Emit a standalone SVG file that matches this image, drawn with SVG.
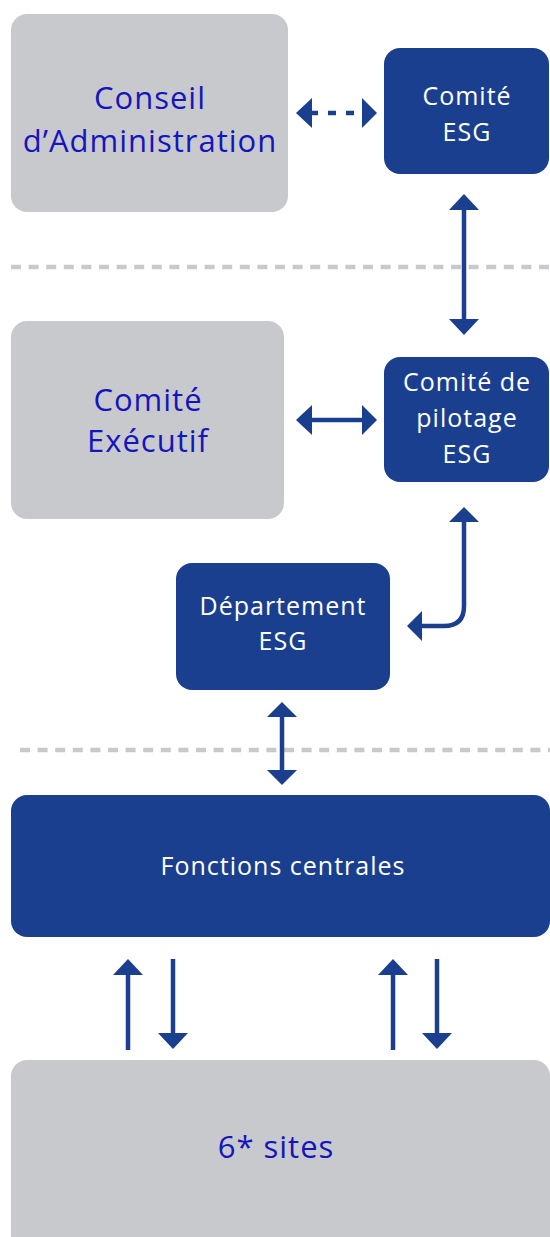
<svg xmlns="http://www.w3.org/2000/svg" width="550" height="1237" viewBox="0 0 550 1237">
<style>
.gray{fill:#c8c9cd}
.navy{fill:#1b3f8f}
.bt{font-family:"Open Sans","Liberation Sans",sans-serif;font-size:31px;fill:#1515bd;text-anchor:middle;letter-spacing:1px}
.wt{font-family:"Open Sans","Liberation Sans",sans-serif;font-size:25px;fill:#ffffff;text-anchor:middle;letter-spacing:1px}
.sep{stroke:#c8c9cd;stroke-width:4.5;stroke-dasharray:10 7.6;fill:none}
.ln{stroke:#1b3f8f;stroke-width:4.5;fill:none}
.hd{fill:#1b3f8f}
</style>
<rect width="550" height="1237" fill="#ffffff"/>
<g id="separators">
<line class="sep" x1="11" y1="267" x2="550" y2="267"/>
<line class="sep" x1="20" y1="750" x2="550" y2="750"/>
</g>
<g id="conseil">
<rect class="gray" x="11" y="14" width="277" height="198" rx="16"/>
<text class="bt" x="150" y="109">Conseil</text>
<text class="bt" x="150" y="152">d’Administration</text>
</g>
<g id="comite-esg">
<rect class="navy" x="384" y="48" width="165" height="126" rx="16"/>
<text class="wt" x="467" y="105">Comité</text>
<text class="wt" x="467" y="141">ESG</text>
</g>
<g id="comex">
<rect class="gray" x="11" y="321" width="273" height="198" rx="16"/>
<text class="bt" x="148" y="411">Comité</text>
<text class="bt" x="148" y="452">Exécutif</text>
</g>
<g id="copil">
<rect class="navy" x="384" y="357" width="165" height="125" rx="16"/>
<text class="wt" x="467" y="391">Comité de</text>
<text class="wt" x="467" y="427">pilotage</text>
<text class="wt" x="467" y="463">ESG</text>
</g>
<g id="departement">
<rect class="navy" x="176" y="563" width="214" height="127" rx="16"/>
<text class="wt" x="283" y="615">Département</text>
<text class="wt" x="283" y="650">ESG</text>
</g>
<g id="fonctions">
<rect class="navy" x="11" y="795" width="539" height="142" rx="16"/>
<text class="wt" x="283" y="875">Fonctions centrales</text>
</g>
<g id="sites">
<rect class="gray" x="11" y="1060" width="539" height="200" rx="16"/>
<text class="bt" x="276" y="1158">6* sites</text>
</g>
<g id="connectors">
<line class="ln" x1="310" y1="113" x2="362" y2="113" stroke-dasharray="8 10"/>
<polygon class="hd" points="296,113 312,98 312,128"/>
<polygon class="hd" points="377,113 362,98 362,128"/>
<line class="ln" x1="464" y1="208" x2="464" y2="321"/>
<polygon class="hd" points="464,194 449,210 479,210"/>
<polygon class="hd" points="464,335 449,319 479,319"/>
<line class="ln" x1="310" y1="420" x2="363" y2="420"/>
<polygon class="hd" points="296,420 312,405 312,435"/>
<polygon class="hd" points="377,420 362,405 362,435"/>
<path class="ln" d="M464,520 V606 Q464,626 444,626 H420"/>
<polygon class="hd" points="464,507 449,522 479,522"/>
<polygon class="hd" points="407,626 422,611 422,641"/>
<line class="ln" x1="282" y1="715" x2="282" y2="772"/>
<polygon class="hd" points="282,702 267,717 297,717"/>
<polygon class="hd" points="282,785 267,770 297,770"/>
<line class="ln" x1="128" y1="972" x2="128" y2="1050"/>
<polygon class="hd" points="128,959 113,975 143,975"/>
<line class="ln" x1="173" y1="959" x2="173" y2="1036"/>
<polygon class="hd" points="173,1049 158,1033 188,1033"/>
<line class="ln" x1="393" y1="972" x2="393" y2="1050"/>
<polygon class="hd" points="393,959 378,975 408,975"/>
<line class="ln" x1="437" y1="959" x2="437" y2="1036"/>
<polygon class="hd" points="437,1049 422,1033 452,1033"/>
</g>
</svg>
